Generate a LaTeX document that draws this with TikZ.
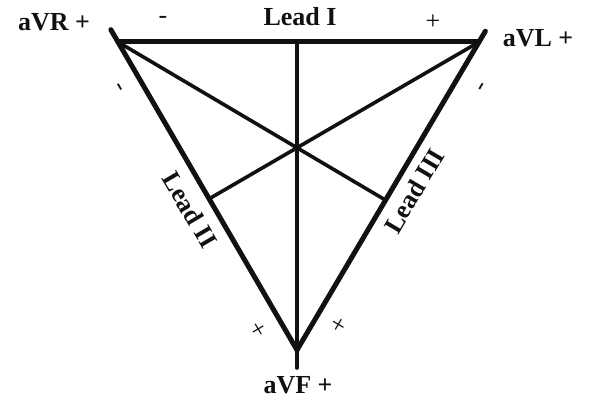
\documentclass[tikz,border=0pt]{standalone}
\usepackage{fontspec}
\setmainfont{Liberation Serif}
\usetikzlibrary{positioning, calc}
\definecolor{leadInk}{HTML}{111111}
\tikzset{
  side/.style={draw=leadInk, line width=5pt, line cap=round},
  axis/.style={draw=leadInk, line width=3.6pt, line cap=round},
  leadlbl/.style={font=\fontsize{26}{28}\selectfont\bfseries, text=leadInk, inner sep=1pt},
  signlbl/.style={font=\fontsize{26}{28}\selectfont, text=leadInk, inner sep=0pt},
}
\begin{document}
\begin{tikzpicture}[x=1pt, y=-1pt]
    \useasboundingbox (0,0) rectangle (590,401);
    % corners of the triangle
    \coordinate (vr) at (118,42);
    \coordinate (vl) at (479,42);
    \coordinate (vf) at (297,350);
    \coordinate (vrTip) at ($(vf)!1.04!(vr)$);
    \coordinate (vlTip) at ($(vf)!1.035!(vl)$);
    \coordinate (vfTip) at (297,368);
    \coordinate (top) at ($(vr)!(vf)!(vl)$);
    \coordinate (footL) at ($(vf)!(vl)!(vr)$);
    \coordinate (footR) at ($(vf)!(vr)!(vl)$);
    % sides
    \draw[side] (vr) -- (vl);
    \draw[side] (vrTip) -- (vf);
    \draw[side] (vlTip) -- (vf);
    % axes
    \draw[axis] (top) -- (vfTip);
    \draw[axis] (vr) -- (footR);
    \draw[axis] (vl) -- (footL);
    % lead names
    \node[leadlbl] (aVR) at (54,22) {aVR +};
    \node[leadlbl] (aVL) at (538,38) {aVL +};
    \node[leadlbl] (aVF) at (298,385) {aVF +};
    \node[leadlbl] (leadI) at (300,17) {Lead I};
    \node[leadlbl, rotate=-59.5] (leadII) at (190,210) {Lead II};
    \node[leadlbl, rotate=59.5] (leadIII) at (414,191) {Lead III};
    % polarity marks
    \node[signlbl] (minusI) at (163,20) {-};
    \node[signlbl] (plusI) at (433,22) {+};
    \node[signlbl, rotate=-59.5] (minusII) at (118,88) {-};
    \node[signlbl, rotate=-59.5] (plusII) at (258,330) {+};
    \node[signlbl, rotate=59.5] (minusIII) at (484,88) {-};
    \node[signlbl, rotate=59.5] (plusIII) at (340,325) {+};
  \end{tikzpicture}
\end{document}
